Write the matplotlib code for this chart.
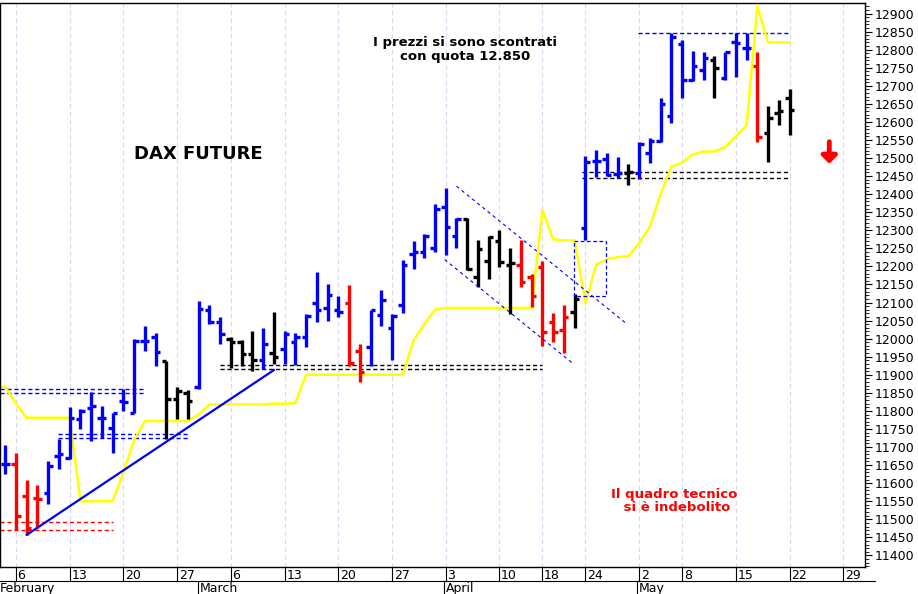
import matplotlib
matplotlib.use("Agg")
import matplotlib.pyplot as plt
import matplotlib.transforms as mtransforms
import numpy as np

# trading-day index: 0 = 6 Feb 2017
idx = np.arange(-1, 73)
highs = [11707, 11684, 11610, 11594, 11661, 11721, 11811, 11804, 11851, 11814, 11795,
         11860, 11999, 12036, 12017, 11939, 11867, 11857, 12104, 12094, 12061,
         12004, 11996, 12022, 12029, 12073, 12022, 12015, 12067, 12185, 12152,
         12117, 12148, 11984, 12080, 12134, 12067, 12219, 12271, 12291, 12374,
         12416, 12333, 12333, 12273, 12284, 12300, 12252, 12273, 12178, 12215,
         12071, 12092, 12123, 12506, 12522, 12515, 12502, 12483, 12545, 12555,
         12666, 12846, 12826, 12795, 12793, 12783, 12793, 12846, 12846, 12793,
         12643, 12661, 12691]
lows = [11624, 11471, 11457, 11476, 11541, 11638, 11666, 11749, 11717, 11726, 11684,
        11800, 11795, 11967, 11925, 11721, 11777, 11777, 11860, 12041, 11985,
        11918, 11925, 11911, 11916, 11929, 11929, 11928, 11976, 12046, 12050,
        12060, 11925, 11879, 11925, 12036, 11941, 12071, 12194, 12222, 12240,
        12231, 12252, 12191, 12143, 12166, 12198, 12069, 12143, 12087, 11981,
        11990, 11960, 12030, 12272, 12448, 12450, 12444, 12425, 12441, 12485,
        12543, 12598, 12666, 12712, 12717, 12666, 12715, 12724, 12772, 12543,
        12490, 12592, 12564]
opens = [11652, 11654, 11564, 11559, 11573, 11675, 11670, 11777, 11809, 11781, 11754,
         11828, 11795, 11994, 12005, 11939, 11832, 11850, 11865, 12080, 12045,
         12000, 11990, 11957, 11941, 11960, 11970, 11990, 12004, 12100, 12085,
         12078, 12098, 11967, 11976, 12065, 12030, 12092, 12235, 12240, 12252,
         12365, 12285, 12330, 12170, 12215, 12270, 12203, 12203, 12170, 12198,
         12045, 12023, 12073, 12307, 12493, 12498, 12457, 12459, 12458, 12514,
         12547, 12615, 12815, 12717, 12745, 12770, 12722, 12820, 12805, 12754,
         12570, 12624, 12665]
closes = [11652, 11508, 11476, 11555, 11647, 11680, 11780, 11800, 11814, 11781, 11795,
          11825, 11994, 11994, 11962, 11832, 11855, 11828, 12082, 12045, 12013,
          11990, 11957, 11941, 11985, 11948, 12013, 12004, 12062, 12078, 12120,
          12073, 11932, 11907, 12078, 12106, 12064, 12203, 12240, 12284, 12360,
          12310, 12330, 12194, 12247, 12282, 12212, 12210, 12157, 12117, 12018,
          12018, 12060, 12110, 12490, 12493, 12453, 12459, 12462, 12539, 12548,
          12650, 12835, 12717, 12754, 12777, 12749, 12793, 12819, 12805, 12559,
          12610, 12629, 12632]
colors = (['b', 'r', 'r', 'r', 'b', 'b', 'b', 'b', 'b', 'b', 'b', 'b', 'b', 'b', 'b',
           'k', 'k', 'k', 'b', 'b', 'b', 'k', 'k', 'k', 'b', 'k', 'b', 'b', 'b', 'b', 'b',
           'b', 'r', 'r', 'b', 'b', 'b', 'b', 'b', 'b', 'b', 'b', 'b', 'k', 'k', 'k', 'k',
           'k', 'r', 'r', 'r', 'r', 'r', 'k', 'b', 'b', 'b', 'b', 'k', 'b', 'b', 'b', 'b',
           'b', 'b', 'b', 'k', 'b', 'b', 'b', 'r', 'k', 'k', 'k'])
cmap = {'b': '#0000ff', 'r': '#ff0000', 'k': '#000000'}

yellow_idx = np.arange(-2, 73)
yellow = [11867, 11867, 11820, 11781, 11781, 11781, 11781, 11781, 11550, 11550, 11550,
          11550, 11630, 11720, 11772, 11772, 11772, 11772, 11772, 11790, 11818, 11818,
          11818, 11818, 11818, 11818, 11820, 11820, 11822, 11900, 11900, 11900, 11900,
          11900, 11900, 11900, 11900, 11900, 11900, 11995, 12040, 12080, 12085, 12085,
          12085, 12085, 12085, 12085, 12085, 12085, 12085, 12356, 12275, 12272, 12272,
          12097, 12205, 12220, 12226, 12228, 12265, 12310, 12400, 12476, 12487, 12510,
          12518, 12518, 12530, 12560, 12590, 12919, 12820, 12820, 12820]
yellow = yellow[:len(yellow_idx)]

tick_days = [0, 5, 10, 15, 20, 25, 30, 35, 40, 45, 49, 53, 58, 62, 67, 72, 77]
tick_labels = ['6', '13', '20', '27', '6', '13', '20', '27', '3', '10', '18', '24',
               '2', '8', '15', '22', '29']
months = [(-1.7, 'February'), (16.9, 'March'), (39.8, 'April'), (57.8, 'May')]

fig = plt.figure(figsize=(9.18, 5.94), dpi=100)
ax = fig.add_axes([0.0, 0.0455, 0.942, 0.95])
ax.set_xlim(-1.49, 79.0)
ax.set_ylim(11368, 12930)

for d in tick_days:
    ax.axvline(d, color='#d8d8f0', lw=0.8, ls=(0, (4, 3)), zorder=0)

ax.plot(yellow_idx, yellow, color='#ffff00', lw=1.8, zorder=2)

w = 0.42
for x, h, l, o, c, col in zip(idx, highs, lows, opens, closes, colors):
    cc = cmap[col]
    ax.plot([x, x], [l, h], color=cc, lw=2.4, solid_capstyle='butt', zorder=3)
    ax.plot([x - w, x], [o, o], color=cc, lw=2.4, solid_capstyle='butt', zorder=3)
    ax.plot([x, x + w], [c, c], color=cc, lw=2.4, solid_capstyle='butt', zorder=3)

dash = (0, (3, 2))
def hl(y, x0, x1, col):
    ax.plot([x0, x1], [y, y], color=col, lw=1, ls=dash, zorder=1)

for y in (11860, 11849):
    hl(y, -1.5, 12, '#0000ff')
for y in (11492, 11471):
    hl(y, -1.5, 9, '#ff0000')
for y in (11735, 11724):
    hl(y, 3.9, 16, '#0000ff')
for y in (11928, 11916):
    hl(y, 19, 49, '#000000')
hl(12846, 57.9, 72, '#0000ff')
for y in (12462, 12446):
    hl(y, 52.7, 72, '#000000')

ax.plot([1, 24], [11457, 11913], color='#0000ff', lw=1.6, zorder=4)
ax.plot([41, 56.8], [12422, 12042], color='#0000ff', lw=0.8, ls=(0, (3, 3)), zorder=4)
ax.plot([39.9, 51.8], [12219, 11932], color='#0000ff', lw=0.8, ls=(0, (3, 3)), zorder=4)
ax.plot([51.9, 54.9, 54.9, 51.9, 51.9], [12271, 12271, 12118, 12118, 12271],
        color='#0000ff', lw=0.9, ls=dash, zorder=4)

ax.text(41.8, 12800, 'I prezzi si sono scontrati\ncon quota 12.850', ha='center',
        va='center', fontsize=9.5, fontweight='bold', linespacing=1.05)
ax.text(17, 12510, 'DAX FUTURE', ha='center', va='center', fontsize=13, fontweight='bold')
ax.text(61.3, 11550, 'Il quadro tecnico\n si è indebolito', ha='center', va='center',
        fontsize=9.5, fontweight='bold', color='#ff0000', linespacing=1.05)
ax.annotate('', xy=(75.7, 12484), xytext=(75.7, 12545),
            arrowprops=dict(arrowstyle='-|>,head_width=0.45,head_length=0.45',
                            color='#ff0000', lw=3.5, shrinkA=0, shrinkB=0))

ax.yaxis.tick_right()
ax.set_yticks(np.arange(11400, 12901, 50))
ax.set_yticks(np.arange(11370, 12930, 10), minor=True)
ax.tick_params(axis='y', labelsize=9, length=5, direction='out', pad=2)
ax.tick_params(axis='y', which='minor', length=3)
ax.set_xticks([])

trans = mtransforms.blended_transform_factory(ax.transData, ax.transAxes)
for d, lab in zip(tick_days, tick_labels):
    ax.plot([d, d], [0, -0.024], transform=trans, color='k', lw=0.8, clip_on=False)
    ax.text(d + 0.15, -0.004, lab, transform=trans, ha='left', va='top', fontsize=9)
ax.plot([-2, 80], [-0.024, -0.024], transform=trans, color='k', lw=0.8, clip_on=False)
for d, lab in months:
    ax.plot([d, d], [-0.024, -0.05], transform=trans, color='k', lw=0.8, clip_on=False)
    ax.text(d + 0.2, -0.027, lab, transform=trans, ha='left', va='top', fontsize=9)

for s in ax.spines.values():
    s.set_linewidth(1)

fig.savefig('out.png', dpi=100)
